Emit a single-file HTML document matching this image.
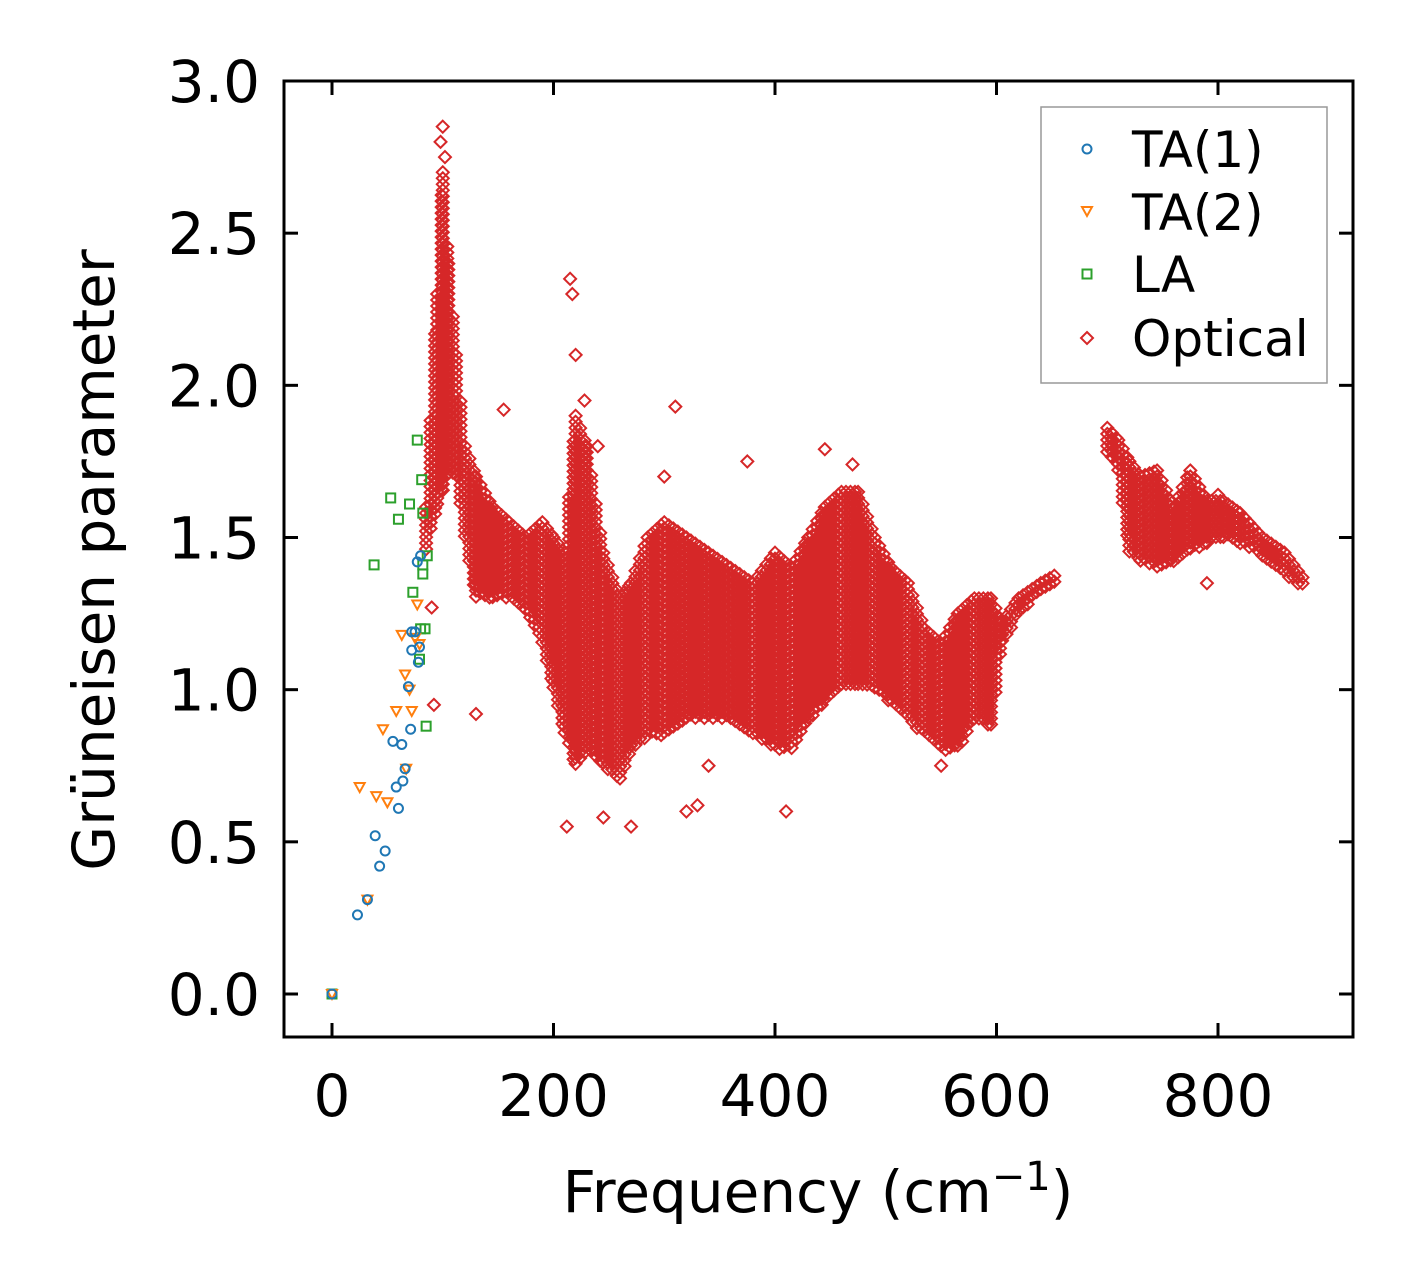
<!DOCTYPE html>
<html><head><meta charset="utf-8"><style>
html,body{margin:0;padding:0;background:#fff}
svg{display:block}
text{font-family:"DejaVu Sans","Liberation Sans",sans-serif;fill:#000}
</style></head><body>
<svg id="chart" width="1413" height="1286" viewBox="0 0 1413 1286" xmlns="http://www.w3.org/2000/svg">
<rect x="0" y="0" width="1413" height="1286" fill="#fff"/>
<g id="marks"></g>
<g id="axes"></g>
</svg>
<script>
// x tick values and y tick values
const xTicks = [0, 200, 400, 600, 800];
const xTickLabels = ["0", "200", "400", "600", "800"];
const yTicks = [0, 0.5, 1.0, 1.5, 2.0, 2.5, 3.0];
const yTickLabels = ["0.0", "0.5", "1.0", "1.5", "2.0", "2.5", "3.0"];

// TA(1)
const ta1Freq = [0,23,32,39,43,48,55,58,60,63,64,66,69,71,72,72,75,77,78,79,80];
const ta1Gamma = [0,0.26,0.31,0.52,0.42,0.47,0.83,0.68,0.61,0.82,0.70,0.74,1.01,0.87,1.13,1.19,1.19,1.42,1.09,1.14,1.44];
// TA(2)
const ta2Freq = [0,25,32,40,46,50,58,63,66,67,70,72,75,77,79];
const ta2Gamma = [0,0.68,0.31,0.65,0.87,0.63,0.93,1.18,1.05,0.74,1.00,0.93,1.17,1.28,1.15];
// LA
const laFreq = [0,38,53,60,70,77,73,81,82,80,84,82,86,85,79,82];
const laGamma = [0,1.41,1.63,1.56,1.61,1.82,1.32,1.69,1.58,1.20,1.20,1.41,1.44,0.88,1.10,1.38];

// Optical dense band 1
const band1Freq = [85,95,100,105,112,120,130,145,160,175,190,200,210,220,230,245,260,270,285,300,320,340,360,380,400,415,430,445,460,475,490,505,520,535,550,565,580,595,605,620,640,655];
const band1Lo =   [1.45,1.6,1.65,1.7,1.7,1.5,1.3,1.3,1.3,1.25,1.15,1.0,0.85,0.75,0.8,0.75,0.7,0.8,0.85,0.85,0.9,0.9,0.9,0.85,0.8,0.8,0.9,0.95,1.0,1.0,1.0,0.95,0.9,0.85,0.8,0.8,0.9,0.88,1.15,1.25,1.32,1.36];
const band1Hi =   [1.6,2.3,2.7,2.4,2.1,1.8,1.7,1.6,1.55,1.5,1.55,1.5,1.45,1.9,1.8,1.45,1.3,1.35,1.5,1.55,1.5,1.45,1.4,1.35,1.45,1.4,1.5,1.6,1.65,1.65,1.5,1.4,1.35,1.2,1.15,1.25,1.3,1.3,1.22,1.3,1.35,1.38];
// Optical dense band 2
const band2Freq = [700,710,720,730,745,760,775,790,805,820,840,860,878];
const band2Lo =   [1.78,1.72,1.45,1.42,1.4,1.42,1.45,1.48,1.5,1.48,1.44,1.38,1.33];
const band2Hi =   [1.86,1.82,1.75,1.7,1.72,1.6,1.72,1.62,1.62,1.58,1.5,1.45,1.36];
// Optical scattered points
const optFreq = [100,98,102,215,217,220,310,375,445,410,130,270,212,245,155,92,90,550,790,330,320,228,240,470,800,300,340];
const optGamma = [2.85,2.8,2.75,2.35,2.3,2.1,1.93,1.75,1.79,0.6,0.92,0.55,0.55,0.58,1.92,0.95,1.27,0.75,1.35,0.62,0.6,1.95,1.8,1.74,1.64,1.7,0.75];

const X0 = 284, X1 = 1353, Y0 = 81, Y1 = 1037;
function xs(v){ return 332 + v * (1218 - 332) / 800; }
function ys(v){ return 994 - v * (994 - 81) / 3.0; }

const NS = "http://www.w3.org/2000/svg";
const marks = document.getElementById('marks');
const axes = document.getElementById('axes');
function mk(tag, attrs, parent){
  const e = document.createElementNS(NS, tag);
  for (const k in attrs) e.setAttribute(k, attrs[k]);
  parent.appendChild(e); return e;
}

function drawBand(fr, lo, hi, name){
  let d = "";
  for (let i = 0; i < fr.length - 1; i++){
    const xa = xs(fr[i]), xb = xs(fr[i+1]);
    for (let px = xa; px < xb; px += 4.5){
      const t = (px - xa) / (xb - xa);
      const l = lo[i] + (lo[i+1]-lo[i]) * t;
      const h = hi[i] + (hi[i+1]-hi[i]) * t;
      const yTop = ys(h), yBot = ys(l);
      for (let py = yTop; py <= yBot; py += 6){
        d += `M${px.toFixed(1)} ${(py-6).toFixed(1)}L${(px+6).toFixed(1)} ${py.toFixed(1)}L${px.toFixed(1)} ${(py+6).toFixed(1)}L${(px-6).toFixed(1)} ${py.toFixed(1)}Z`;
      }
    }
  }
  const p = mk('path', {d: d, fill: 'none', stroke: '#d62728', 'stroke-width': 2}, marks);
  
  
}
drawBand(band1Freq, band1Lo, band1Hi, 'optical-band-low');
drawBand(band2Freq, band2Lo, band2Hi, 'optical-band-high');

function diamond(cx, cy, parent){
  return mk('path', {d:`M${cx} ${cy-6}L${cx+6} ${cy}L${cx} ${cy+6}L${cx-6} ${cy}Z`, fill:'none', stroke:'#d62728','stroke-width':2}, parent);
}
for (let i = 0; i < optFreq.length; i++){
  const e = diamond(xs(optFreq[i]), ys(optGamma[i]), marks);
  
  
}
for (let i = 0; i < laFreq.length; i++){
  const cx = xs(laFreq[i]), cy = ys(laGamma[i]);
  const e = mk('rect', {x: cx-4.5, y: cy-4.5, width: 9, height: 9, fill:'none', stroke:'#2ca02c','stroke-width':2}, marks);
  
  
}
for (let i = 0; i < ta2Freq.length; i++){
  const cx = xs(ta2Freq[i]), cy = ys(ta2Gamma[i]);
  const e = mk('path', {d:`M${cx-5} ${cy-4}L${cx+5} ${cy-4}L${cx} ${cy+5}Z`, fill:'none', stroke:'#ff7f0e','stroke-width':2}, marks);
  
  
}
for (let i = 0; i < ta1Freq.length; i++){
  const e = mk('circle', {cx: xs(ta1Freq[i]), cy: ys(ta1Gamma[i]), r: 4.5, fill:'none', stroke:'#1f77b4','stroke-width':2}, marks);
  
  
}

const frame = mk('rect', {x: X0, y: Y0, width: X1-X0, height: Y1-Y0, fill:'none', stroke:'#000','stroke-width':3}, axes);



for (let i = 0; i < xTicks.length; i++){
  const x = xs(xTicks[i]);
  mk('line', {x1:x, y1:Y1, x2:x, y2:Y1-14, stroke:'#000','stroke-width':3}, axes);
  mk('line', {x1:x, y1:Y0, x2:x, y2:Y0+14, stroke:'#000','stroke-width':3}, axes);
  const t = mk('text', {x:x, y:1116, 'text-anchor':'middle', 'font-size':58}, axes);
  t.textContent = xTickLabels[i];
  
  
}
for (let i = 0; i < yTicks.length; i++){
  const y = ys(yTicks[i]);
  mk('line', {x1:X0, y1:y, x2:X0+14, y2:y, stroke:'#000','stroke-width':3}, axes);
  mk('line', {x1:X1, y1:y, x2:X1-14, y2:y, stroke:'#000','stroke-width':3}, axes);
  const t = mk('text', {x:260, y:y+21, 'text-anchor':'end', 'font-size':58}, axes);
  t.textContent = yTickLabels[i];
  
  
}
</script>
<svg style="position:absolute;left:0;top:0" width="1413" height="1286" xmlns="http://www.w3.org/2000/svg">
  <text x="818" y="1212" text-anchor="middle" font-size="58">Frequency (cm<tspan dy="-22" font-size="40">−1</tspan><tspan dy="22">)</tspan></text>
  <text transform="translate(114,560) rotate(-90)" text-anchor="middle" font-size="58">Grüneisen parameter</text>
  <g>
    <rect x="1041" y="107" width="286" height="276" fill="#fff" fill-opacity="0.8" stroke="#999" stroke-width="1.5"/>
    <g>
      <circle cx="1087" cy="149" r="4.5" fill="none" stroke="#1f77b4" stroke-width="2"/>
      <text x="1132" y="167" font-size="50">TA(1)</text>
    </g>
    <g>
      <path d="M1082 207L1092 207L1087 216Z" fill="none" stroke="#ff7f0e" stroke-width="2"/>
      <text x="1132" y="230" font-size="50">TA(2)</text>
    </g>
    <g>
      <rect x="1082.5" y="269.5" width="9" height="9" fill="none" stroke="#2ca02c" stroke-width="2"/>
      <text x="1132" y="292" font-size="50">LA</text>
    </g>
    <g>
      <path d="M1087 332L1093 338L1087 344L1081 338Z" fill="none" stroke="#d62728" stroke-width="2"/>
      <text x="1132" y="356" font-size="50">Optical</text>
    </g>
  </g>
</svg>
</body></html>
